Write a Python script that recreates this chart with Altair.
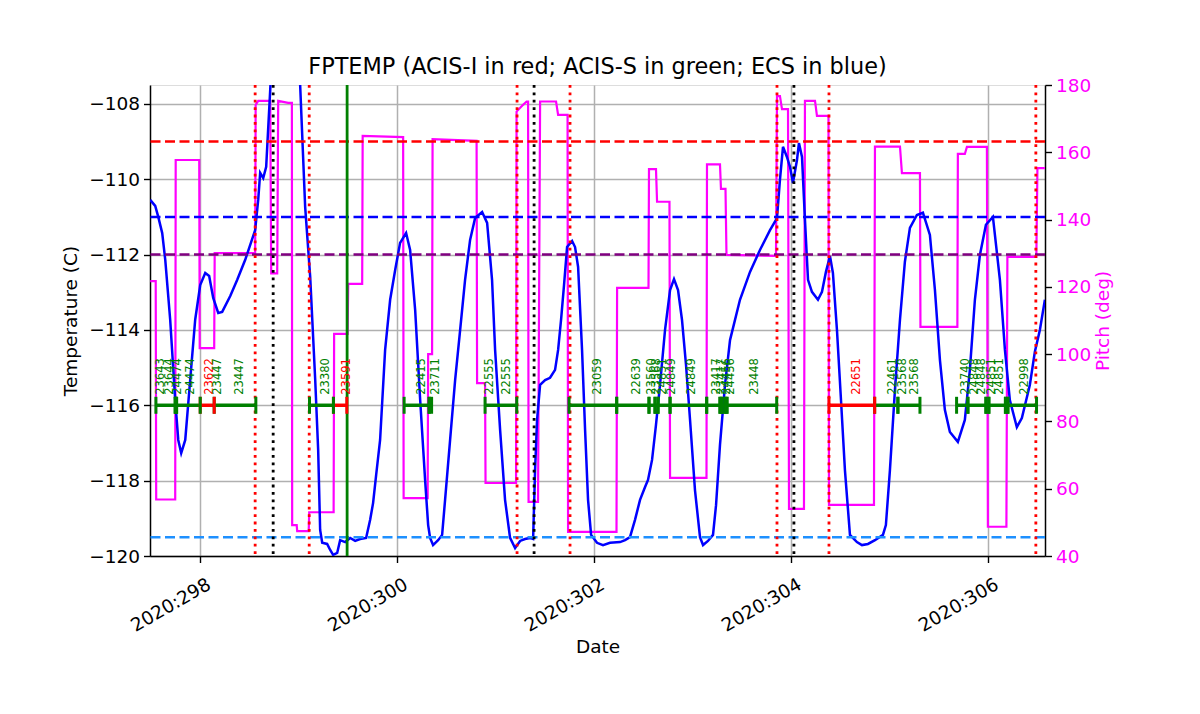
import altair as alt
import pandas as pd

FONT = "DejaVu Sans"

# ---------------- data ----------------
# FPTEMP (deg C) vs day-of-year 2020
temp_day = [297.492, 297.543, 297.574, 297.614, 297.645, 297.695, 297.746, 297.777, 297.807, 297.848,
            297.898, 297.949, 298.000, 298.051, 298.091, 298.132, 298.183, 298.223, 298.305, 298.376,
            298.457, 298.558, 298.589, 298.609, 298.640, 298.670, 298.711, 298.761, 298.863, 298.964,
            299.015, 299.066, 299.117, 299.168, 299.198, 299.218, 299.239, 299.289, 299.320, 299.350,
            299.391, 299.421, 299.472, 299.523, 299.574, 299.624, 299.685, 299.726, 299.756, 299.787,
            299.827, 299.878, 299.929, 299.980, 300.030, 300.091, 300.132, 300.183, 300.234, 300.284,
            300.315, 300.335, 300.365, 300.416, 300.457, 300.487, 300.538, 300.589, 300.640, 300.690,
            300.741, 300.792, 300.863, 300.914, 300.964, 300.995, 301.046, 301.096, 301.147, 301.198,
            301.249, 301.299, 301.350, 301.381, 301.401, 301.421, 301.452, 301.503, 301.553, 301.604,
            301.635, 301.665, 301.695, 301.726, 301.777, 301.807, 301.838, 301.878, 301.909, 301.939,
            301.970, 302.030, 302.091, 302.162, 302.264, 302.315, 302.365, 302.416, 302.467, 302.518,
            302.548, 302.589, 302.629, 302.670, 302.721, 302.772, 302.812, 302.853, 302.893, 302.934,
            302.975, 303.025, 303.076, 303.107, 303.157, 303.208, 303.239, 303.279, 303.330, 303.381,
            303.482, 303.584, 303.685, 303.787, 303.858, 303.888, 303.919, 303.959, 303.990, 304.020,
            304.061, 304.081, 304.112, 304.142, 304.173, 304.213, 304.274, 304.315, 304.355, 304.396,
            304.426, 304.467, 304.508, 304.548, 304.599, 304.670, 304.721, 304.782, 304.853, 304.934,
            304.964, 305.005, 305.056, 305.107, 305.157, 305.208, 305.279, 305.340, 305.411, 305.462,
            305.513, 305.563, 305.614, 305.695, 305.766, 305.817, 305.868, 305.919, 305.980, 306.051,
            306.122, 306.173, 306.223, 306.294, 306.345, 306.426, 306.477, 306.528, 306.579]
temp_val = [-110.55, -110.71, -111.00, -111.43, -112.14, -113.73, -115.86, -116.92, -117.27, -116.92,
            -115.33, -113.73, -112.81, -112.49, -112.57, -113.15, -113.55, -113.52, -113.10, -112.67,
            -112.14, -111.35, -110.55, -109.83, -109.97, -109.67, -107.63, -105.00, -103.50, -105.00,
            -107.50, -110.74, -112.59, -115.33, -117.19, -119.31, -119.65, -119.68, -119.84, -119.97,
            -119.92, -119.58, -119.63, -119.52, -119.60, -119.55, -119.52, -119.04, -118.59, -117.85,
            -116.92, -114.53, -113.20, -112.41, -111.69, -111.43, -111.88, -113.47, -115.86, -117.98,
            -119.18, -119.52, -119.71, -119.58, -119.44, -118.51, -116.92, -115.33, -114.00, -112.67,
            -111.61, -111.03, -110.87, -111.16, -112.67, -114.53, -116.66, -118.51, -119.52, -119.79,
            -119.60, -119.55, -119.52, -119.55, -117.72, -116.39, -115.46, -115.33, -115.27, -115.06,
            -114.53, -113.73, -112.81, -111.80, -111.64, -111.80, -112.33, -114.53, -116.66, -118.51,
            -119.44, -119.65, -119.71, -119.65, -119.63, -119.58, -119.50, -119.04, -118.51, -118.17,
            -117.98, -117.45, -116.52, -115.46, -114.00, -112.94, -112.65, -112.94, -113.73, -114.93,
            -116.39, -118.25, -119.50, -119.71, -119.60, -119.44, -118.65, -117.05, -115.46, -114.27,
            -113.20, -112.46, -111.88, -111.35, -111.03, -110.02, -109.14, -109.41, -109.67, -110.10,
            -109.49, -109.04, -109.41, -111.08, -112.67, -112.99, -113.20, -112.99, -112.46, -112.04,
            -112.49, -114.00, -115.86, -117.72, -119.44, -119.63, -119.71, -119.68, -119.58, -119.44,
            -119.18, -117.72, -115.59, -113.73, -112.19, -111.29, -110.95, -110.89, -111.48, -112.94,
            -114.80, -116.12, -116.71, -116.97, -116.39, -115.06, -113.20, -112.01, -111.21, -111.00,
            -112.67, -114.53, -115.86, -116.58, -116.34, -115.46, -114.58, -114.00, -113.20]

# Pitch (deg) step function
pitch_day = [297.492, 297.548, 297.553, 297.746, 297.751, 297.990, 297.995, 298.142, 298.147, 298.558,
             298.563, 298.589, 298.711, 298.721, 298.782, 298.792, 298.893, 298.931, 298.934, 298.980,
             298.985, 299.102, 299.107, 299.355, 299.360, 299.497, 299.503, 299.645, 299.650, 300.061,
             300.066, 300.310, 300.315, 300.355, 300.360, 300.807, 300.812, 300.893, 300.898, 301.208,
             301.213, 301.279, 301.315, 301.330, 301.335, 301.431, 301.452, 301.614, 301.635, 301.731,
             301.736, 302.228, 302.234, 302.553, 302.558, 302.629, 302.640, 302.766, 302.772, 303.142,
             303.147, 303.279, 303.289, 303.335, 303.345, 303.848, 303.858, 303.888, 303.909, 303.970,
             303.980, 304.132, 304.142, 304.244, 304.264, 304.381, 304.386, 304.843, 304.853, 305.107,
             305.127, 305.310, 305.315, 305.690, 305.695, 305.766, 305.787, 305.990, 306.000, 306.188,
             306.198, 306.492, 306.503, 306.579]
pitch_val = [121.7, 121.7, 56.8, 56.8, 157.7, 157.7, 101.8, 101.8, 130.0, 130.0,
             174.1, 175.3, 175.3, 124.0, 124.0, 175.3, 174.7, 174.7, 49.2, 49.2,
             47.4, 47.4, 53.0, 53.0, 106.0, 106.0, 120.9, 120.9, 164.9, 164.5,
             57.2, 57.2, 100.0, 100.0, 163.9, 163.4, 91.4, 91.4, 61.7, 61.7,
             172.1, 174.1, 175.1, 175.1, 56.1, 56.1, 175.1, 175.1, 171.1, 171.1,
             47.2, 47.2, 119.7, 119.7, 155.0, 155.0, 145.3, 145.3, 63.2, 63.2,
             156.4, 156.4, 149.1, 149.1, 129.5, 129.2, 176.7, 176.7, 172.8, 172.8,
             54.0, 54.0, 175.3, 175.3, 170.8, 170.8, 55.2, 55.2, 161.7, 161.7,
             153.8, 153.8, 108.1, 108.1, 159.5, 159.5, 161.6, 161.6, 48.7, 48.7,
             128.9, 128.9, 155.3, 155.3]

# vertical event lines
red_vlines = [298.558, 299.107, 301.218, 301.756, 303.858, 304.386, 306.487]
black_vlines = [298.741, 301.391, 304.030]
green_vlines = [299.492]

# horizontal limit lines
hline_vals = [-109.0, -111.0, -112.0, -119.5]
hline_colors = ["red", "blue", "purple", "dodgerblue"]

# obsid bar segments at -116
seg_start = [297.550, 297.746, 297.760, 298.000, 298.142, 299.110, 299.353, 300.071, 300.325, 300.893,
             301.746, 302.230, 302.558, 302.619, 302.650, 302.772, 303.144, 303.279, 303.299, 303.330,
             303.350, 304.386, 304.850, 305.086, 305.682, 305.797, 305.980, 306.010, 306.178, 306.203]
seg_end = [297.746, 297.760, 298.000, 298.142, 298.565, 299.353, 299.489, 300.325, 300.350, 301.215,
           302.230, 302.558, 302.619, 302.650, 302.772, 303.144, 303.279, 303.299, 303.330, 303.350,
           303.855, 304.850, 305.086, 305.310, 305.797, 305.980, 306.010, 306.178, 306.203, 306.494]
seg_color = ["green", "green", "green", "red", "green", "green", "red", "green", "green", "green",
             "green", "green", "green", "green", "green", "green", "green", "green", "green", "green",
             "green", "red", "green", "green", "green", "green", "green", "green", "green", "green"]

# obsid labels
label_day = [297.604, 297.695, 297.777, 297.909, 298.102, 298.183, 298.406, 299.279, 299.489, 300.251,
             300.391, 300.944, 301.117, 302.041, 302.437, 302.589, 302.635, 302.701, 302.789, 302.992,
             303.246, 303.297, 303.347, 303.386, 303.635, 304.670, 305.036, 305.137, 305.259, 305.777,
             305.868, 305.939, 306.041, 306.122, 306.376]
label_text = ["23643", "23644", "24474", "24474", "23622", "23447", "23447", "23380", "23591", "22415",
              "23711", "22555", "22555", "23059", "22639", "23560", "23568", "24851", "24849", "24849",
              "23417", "23417", "24456", "24456", "23448", "22651", "22461", "23568", "23568", "23740",
              "24848", "24848", "24851", "24851", "22998"]
label_color = ["green", "green", "green", "green", "red", "green", "green", "green", "red", "green",
               "green", "green", "green", "green", "green", "green", "green", "green", "green", "green",
               "green", "green", "green", "green", "green", "red", "green", "green", "green", "green",
               "green", "green", "green", "green", "green"]

BAR_Y = -116.0
LABEL_Y = -115.72
X_DOMAIN = [297.49, 306.58]

# ---------------- frames ----------------
temp_df = pd.DataFrame({"day": temp_day, "temp": temp_val, "i": range(len(temp_day))})
pitch_df = pd.DataFrame({"day": pitch_day, "pitch": pitch_val, "i": range(len(pitch_day))})
red_df = pd.DataFrame({"day": red_vlines})
black_df = pd.DataFrame({"day": black_vlines})
green_df = pd.DataFrame({"day": green_vlines})
hl_df = pd.DataFrame({"temp": hline_vals, "color": hline_colors})
seg_df = pd.DataFrame({"day": seg_start, "end": seg_end, "color": seg_color, "temp": BAR_Y})
tick_df = pd.DataFrame({
    "day": seg_start + seg_end,
    "color": seg_color + seg_color,
    "temp": BAR_Y - 0.225,
    "temp2": BAR_Y + 0.225,
})
lab_df = pd.DataFrame({"day": label_day, "text": label_text, "color": label_color, "temp": LABEL_Y})

xscale = alt.Scale(domain=X_DOMAIN, nice=False, zero=False)
yscale = alt.Scale(domain=[-120, -107.5], nice=False, zero=False)
pscale = alt.Scale(domain=[40, 180], nice=False, zero=False)

FS = 18.5
common = dict(
    tickColor="black", tickSize=6.5, tickWidth=1.4, domainColor="black", domainWidth=1.5,
    labelFontSize=FS, titleFontSize=FS, labelFont=FONT, titleFont=FONT,
    titleFontWeight="normal",
)
x_axis = alt.Axis(
    values=[298, 300, 302, 304, 306], labelExpr="'2020:' + datum.value",
    labelAngle=-30, labelAlign="right", labelBaseline="top",
    title="Date", grid=True, gridColor="#b0b0b0", gridWidth=1.5,
    labelColor="black", titleColor="black",
    labelPadding=12, labelOffset=4, titlePadding=3, orient="bottom", **common,
)
y_axis = alt.Axis(
    values=[-120, -118, -116, -114, -112, -110, -108], format="d", orient="left",
    title="Temperature (C)", grid=True, gridColor="#b0b0b0", gridWidth=1.5,
    labelColor="black", titleColor="black",
    labelPadding=4, titlePadding=8, **common,
)
p_axis = alt.Axis(
    values=[40, 60, 80, 100, 120, 140, 160, 180], format="d", orient="right",
    title="Pitch (deg)", grid=False, titleAngle=270,
    labelColor="magenta", titleColor="magenta",
    labelPadding=4, titlePadding=22, **common,
)


def X():
    return alt.X("day:Q", scale=xscale, axis=x_axis, title="Date")


def Y(field="temp"):
    return alt.Y(f"{field}:Q", scale=yscale, axis=y_axis, title="Temperature (C)")


pitch_line = alt.Chart(pitch_df).mark_line(color="magenta", strokeWidth=2.2, clip=True).encode(
    x=X(),
    y=alt.Y("pitch:Q", scale=pscale, axis=p_axis, title="Pitch (deg)"),
    order="i:Q",
)

hlines = alt.Chart(hl_df).mark_rule(strokeWidth=2.5, strokeDash=[10, 4.5]).encode(
    y=Y(),
    color=alt.Color("color:N", scale=None),
)
red_v = alt.Chart(red_df).mark_rule(color="red", strokeWidth=2.8, strokeDash=[2.8, 4.6]).encode(x=X())
black_v = alt.Chart(black_df).mark_rule(color="black", strokeWidth=2.8, strokeDash=[2.8, 4.6]).encode(x=X())
green_v = alt.Chart(green_df).mark_rule(color="green", strokeWidth=2.8).encode(x=X())

temp_line = alt.Chart(temp_df).mark_line(color="blue", strokeWidth=2.5, clip=True).encode(
    x=X(),
    y=Y(),
    order="i:Q",
)

bars = alt.Chart(seg_df).mark_rule(strokeWidth=3.5).encode(
    x=X(), x2="end:Q",
    y=Y(),
    color=alt.Color("color:N", scale=None),
)
ticks = alt.Chart(tick_df).mark_rule(strokeWidth=3).encode(
    x=X(),
    y=Y(), y2="temp2:Q",
    color=alt.Color("color:N", scale=None),
)
labels = alt.Chart(lab_df).mark_text(
    angle=270, align="left", baseline="middle", fontSize=11.5, font=FONT
).encode(
    x=X(),
    y=Y(),
    text="text:N",
    color=alt.Color("color:N", scale=None),
)

left = alt.layer(temp_line, hlines, red_v, black_v, green_v, bars, ticks, labels)

chart = alt.layer(pitch_line, left).resolve_scale(y="independent").properties(
    width=895, height=471,
    autosize=alt.AutoSizeParams(type="none"),
    padding={"left": 142, "top": 77, "right": 140, "bottom": 140},
    title=alt.TitleParams(
        "FPTEMP (ACIS-I in red; ACIS-S in green; ECS in blue)",
        fontSize=22.4, font=FONT, fontWeight="normal", color="black",
        anchor="middle", offset=-2,
    ),
).configure_view(stroke="black", strokeWidth=1.5).configure(background="white")

chart.save("out.html", embed_options={"renderer": "svg", "actions": False})
